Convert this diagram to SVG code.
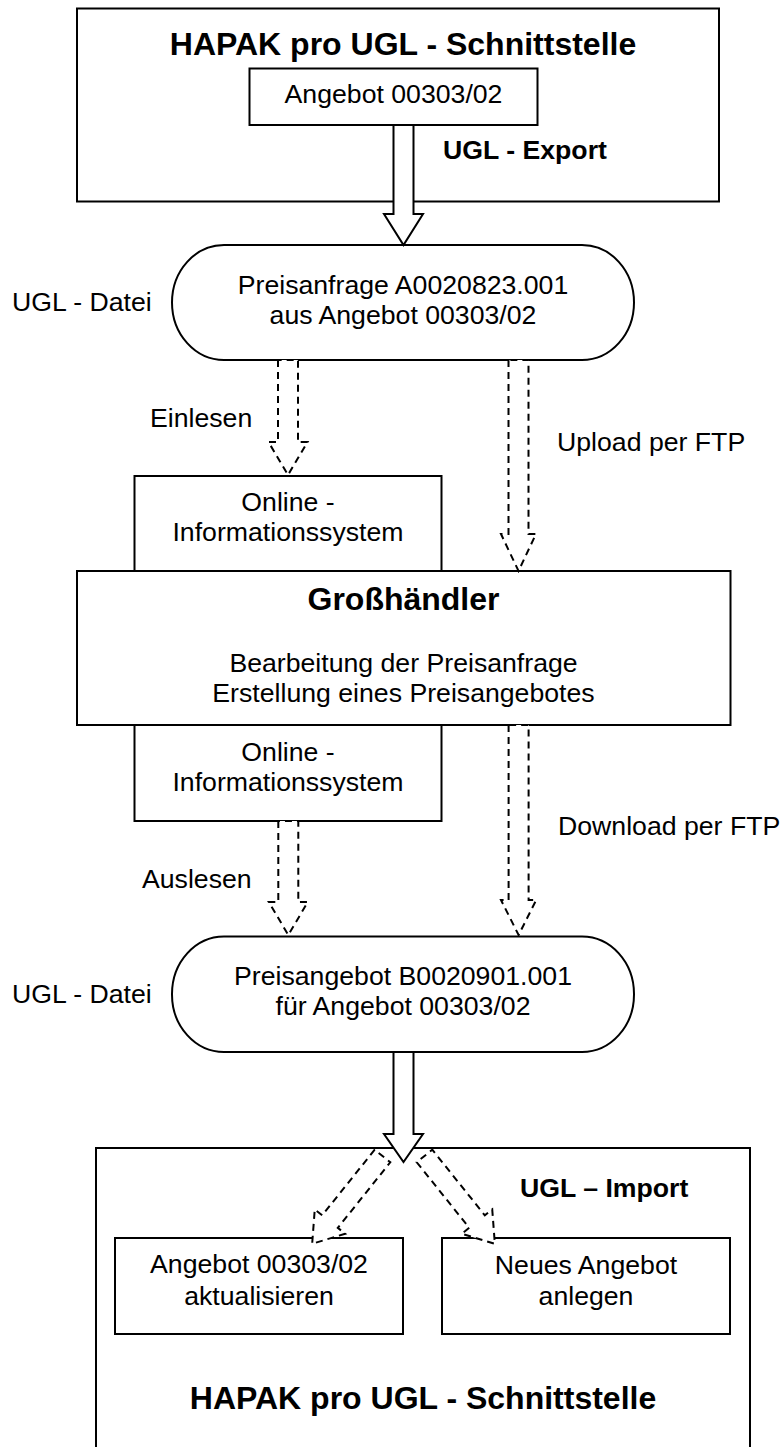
<svg xmlns="http://www.w3.org/2000/svg" width="782" height="1447" viewBox="0 0 782 1447">
<style>
.box{fill:#fff;stroke:#000;stroke-width:2}
.t{font-family:"Liberation Sans",Arial,sans-serif;font-size:26.67px;fill:#000}
.m{text-anchor:middle}
.b{font-weight:bold}
.big{font-size:32px}
.arr{fill:#fff;stroke:#000;stroke-width:2;stroke-linejoin:miter}
.darr{fill:#fff;stroke:#000;stroke-width:2;stroke-dasharray:7 5}
</style>
<rect width="782" height="1447" fill="#fff"/>
<g id="hapak-top">
<rect class="box" x="77" y="8.5" width="642" height="193"/>
<text class="t b big m" x="403" y="55">HAPAK pro UGL - Schnittstelle</text>
</g>
<g id="angebot-top">
<rect class="box" x="249.5" y="68.5" width="288" height="56.5"/>
<text class="t m" x="393.5" y="103">Angebot 00303/02</text>
</g>
<g id="label-export"><text class="t b" x="443" y="159">UGL - Export</text></g>
<g id="preisanfrage">
<rect class="box" x="172" y="245" width="462" height="115" rx="52" ry="57.5"/>
<text class="t m" x="403" y="294">Preisanfrage A0020823.001</text>
<text class="t m" x="403" y="324">aus Angebot 00303/02</text>
</g>
<g id="label-datei1"><text class="t" x="12" y="311">UGL - Datei</text></g>
<g id="label-einlesen"><text class="t" x="150" y="427">Einlesen</text></g>
<g id="label-upload"><text class="t" x="557" y="451">Upload per FTP</text></g>
<g id="online1">
<rect class="box" x="134.5" y="476" width="307" height="95"/>
<text class="t m" x="288" y="511">Online -</text>
<text class="t m" x="288" y="541">Informationssystem</text>
</g>
<g id="grosshaendler">
<rect class="box" x="77" y="571" width="653.5" height="154"/>
<text class="t b big m" x="403.5" y="610">Großhändler</text>
<text class="t m" x="403.5" y="672">Bearbeitung der Preisanfrage</text>
<text class="t m" x="403.5" y="702">Erstellung eines Preisangebotes</text>
</g>
<g id="online2">
<rect class="box" x="134.5" y="725" width="307" height="96"/>
<text class="t m" x="288" y="761">Online -</text>
<text class="t m" x="288" y="791">Informationssystem</text>
</g>
<g id="label-auslesen"><text class="t" x="142" y="888">Auslesen</text></g>
<g id="label-download"><text class="t" x="558" y="835">Download per FTP</text></g>
<g id="preisangebot">
<rect class="box" x="172" y="936.5" width="462" height="115.5" rx="52" ry="57.5"/>
<text class="t m" x="403" y="985">Preisangebot B0020901.001</text>
<text class="t m" x="403" y="1015">für Angebot 00303/02</text>
</g>
<g id="label-datei2"><text class="t" x="12" y="1003">UGL - Datei</text></g>
<g id="hapak-bottom">
<path class="box" fill="none" d="M96,1460 V1148 H750 V1460"/>
<text class="t b big m" x="423" y="1409">HAPAK pro UGL - Schnittstelle</text>
</g>
<g id="label-import"><text class="t b" x="520" y="1197">UGL – Import</text></g>
<g id="aktualisieren">
<rect class="box" x="115" y="1238" width="288" height="96"/>
<text class="t m" x="259" y="1273">Angebot 00303/02</text>
<text class="t m" x="259" y="1305">aktualisieren</text>
</g>
<g id="neues">
<rect class="box" x="442" y="1238" width="288" height="96"/>
<text class="t m" x="586" y="1274">Neues Angebot</text>
<text class="t m" x="586" y="1305">anlegen</text>
</g>
<g id="connectors">
<path class="arr" d="M393.5,125 V214 H384 L403.5,245 L423,214 H413.5 V125 Z"/>
<path class="arr" d="M393.5,1052 V1134 H384 L403.5,1162 L423,1134 H413.5 V1052 Z"/>
<path class="darr" d="M278,360 V442 H268.5 L288,475 L307.5,442 H298 V360 Z"/>
<path class="darr" d="M508.5,360 V534 H501 L518.5,571 L536,534 H528.5 V360 Z"/>
<path class="darr" d="M278.3,821 V902 H268.8 L288.3,935 L307.8,902 H298.3 V821 Z"/>
<path class="darr" d="M508.6,725 V900 H501 L518.6,935 L536.2,900 H528.6 V725 Z"/>
<path class="darr" transform="translate(382.5,1156) rotate(38.7)" d="M-10,0 V84 H-19.5 L0,112.5 L19.5,84 H10 V0 Z"/>
<path class="darr" transform="translate(424.5,1156) rotate(-38.7)" d="M-10,0 V84 H-19.5 L0,112.5 L19.5,84 H10 V0 Z"/>
</g>
</svg>
